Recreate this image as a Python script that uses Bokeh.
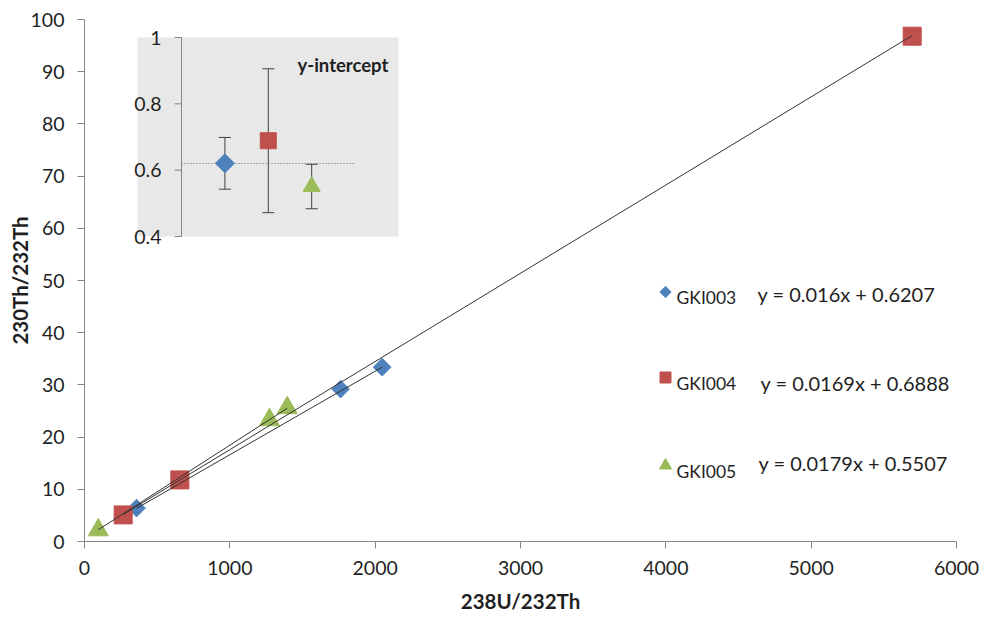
import math
from bokeh.plotting import figure
from bokeh.models import Range1d, FixedTicker, ColumnDataSource, Whisker, TeeHead
from bokeh.core.properties import value
from bokeh.embed import file_html
from bokeh.resources import INLINE

# Isochron data per sample: 238U/232Th (x) against 230Th/232Th (y)
samples = ["GKI003", "GKI004", "GKI005"]
gki003_x = [358, 1762, 2048]
gki003_y = [6.4, 29.2, 33.4]
gki004_x = [266, 656, 5695]
gki004_y = [5.1, 11.8, 96.8]
gki005_x = [95, 1273, 1395]
gki005_y = [2.2, 23.3, 25.6]

# Linear fits (y = slope * x + intercept) and intercept uncertainties
slopes = [0.016, 0.0169, 0.0179]
intercepts = [0.6207, 0.6888, 0.5507]
intercept_err = [0.078, 0.217, 0.067]

x_ticks = [0, 1000, 2000, 3000, 4000, 5000, 6000]
y_ticks = [0, 10, 20, 30, 40, 50, 60, 70, 80, 90, 100]
inset_ticks = [0.4, 0.6, 0.8, 1.0]
inset_tick_labels = ["0.4", "0.6", "0.8", "1"]

colors = ["#4F81BD", "#C0504D", "#9BBB59"]
AXIS = "#868686"
TEXT = "#1f1f1f"
FONT = "Lato"

# Page layout (pixels): main frame and the y-intercept inset
FL, FR, FT, FB = 84, 956, 19, 541
IN_L, IN_R, IN_T, IN_B = 181, 398, 37, 236   # inset axes area
BOX_L = 137                                  # inset panel left edge
IX_LO, IX_HI = 0, 5
IY_LO, IY_HI = 0.4, 1.0
kx = (IN_R - IN_L) / (IX_HI - IX_LO)
ky = (IN_B - IN_T) / (IY_HI - IY_LO)

p = figure(width=982, height=619,
           x_range=Range1d(0, 6000), y_range=Range1d(0, 100),
           output_backend="svg", toolbar_location=None,
           min_border_left=FL, min_border_right=982 - FR,
           min_border_top=FT, min_border_bottom=619 - FB)
p.extra_x_ranges = {
    "inset": Range1d(IX_LO - (IN_L - FL) / kx, IX_HI + (FR - IN_R) / kx),
    "px": Range1d(FL, FR),
}
p.extra_y_ranges = {
    "inset": Range1d(IY_LO - (FB - IN_B) / ky, IY_HI + (IN_T - FT) / ky),
    "px": Range1d(FB, FT),
}
p.grid.visible = False
p.outline_line_color = None
p.background_fill_color = "white"
p.border_fill_color = "white"

for ax, ticks in ((p.xaxis, x_ticks), (p.yaxis, y_ticks)):
    ax.ticker = FixedTicker(ticks=ticks)
    ax.axis_line_color = AXIS
    ax.major_tick_line_color = AXIS
    ax.minor_tick_line_color = None
    ax.major_tick_out = 7
    ax.major_tick_in = 0
    ax.major_label_text_font = FONT
    ax.major_label_text_font_size = "19.5px"
    ax.major_label_text_color = TEXT
    ax.axis_label_text_font = FONT
    ax.axis_label_text_font_size = "20.5px"
    ax.axis_label_text_font_style = "bold"
    ax.axis_label_text_color = TEXT
p.xaxis.axis_label = "238U/232Th"
p.yaxis.axis_label = "230Th/232Th"
p.xaxis.major_label_standoff = 12
p.yaxis.major_label_standoff = 13
p.xaxis.axis_label_standoff = 11
p.yaxis.axis_label_standoff = -4

# ---- main scatter with fitted lines ----
series = [(gki003_x, gki003_y), (gki004_x, gki004_y), (gki005_x, gki005_y)]
markers = [dict(marker="square", angle=math.pi / 4, size=12.5),
           dict(marker="square", angle=0, size=18),
           dict(marker="triangle", angle=0, size=20)]
for (xs, ys), c, m in zip(series, colors, markers):
    p.scatter(xs, ys, fill_color=c, line_color=c, **m)
for (xs, ys), s, b in zip(series, slopes, intercepts):
    x0, x1 = min(xs), max(xs)
    p.line([x0, x1], [s * x0 + b, s * x1 + b], line_color="#333333", line_width=1)

# ---- legend with fit equations ----
leg_marker_x = 665
leg_marker_y = [291.5, 377, 465]
leg_label_x = 676
leg_label_base = [296.5, 383, 470.5]
eq_x = [757, 760, 758]
eq_base = [293.5, 382, 462]
leg_markers = [dict(marker="square", angle=math.pi / 4, size=8),
               dict(marker="square", angle=0, size=11),
               dict(marker="triangle", angle=0, size=12)]
for i, (name, c, m) in enumerate(zip(samples, colors, leg_markers)):
    p.scatter([leg_marker_x], [leg_marker_y[i]], fill_color=c, line_color=c,
              x_range_name="px", y_range_name="px", **m)
    p.text([leg_label_x], [leg_label_base[i]], text=[name],
           text_font=value(FONT), text_font_size="17.5px", text_color=TEXT,
           text_baseline="alphabetic", x_range_name="px", y_range_name="px")
    p.text([eq_x[i]], [eq_base[i]], text=[f"y = {slopes[i]}x + {intercepts[i]}"],
           text_font=value(FONT), text_font_size="20px", text_color=TEXT,
           text_baseline="alphabetic", x_range_name="px", y_range_name="px")

# ---- inset: y-intercepts with uncertainties ----
p.quad(left=[BOX_L], right=[IN_R], top=[IN_T], bottom=[IN_B],
       fill_color="#e8e8e8", line_color=None, level="image",
       x_range_name="px", y_range_name="px")

inset_x = [1, 2, 3]
src = ColumnDataSource(dict(
    base=inset_x,
    upper=[b + e for b, e in zip(intercepts, intercept_err)],
    lower=[b - e for b, e in zip(intercepts, intercept_err)],
))
p.add_layout(Whisker(base="base", upper="upper", lower="lower", source=src,
                     line_color="#404040", line_width=1, level="underlay",
                     upper_head=TeeHead(size=12, line_color="#404040", line_width=1),
                     lower_head=TeeHead(size=12, line_color="#404040", line_width=1),
                     x_range_name="inset", y_range_name="inset"))

mean_b = sum(intercepts) / len(intercepts)
p.line([0, 4], [mean_b, mean_b], line_color="#6a6a6a", line_width=1,
       line_dash="1 2", x_range_name="inset", y_range_name="inset")

inset_markers = [dict(marker="square", angle=math.pi / 4, size=13.5),
                 dict(marker="square", angle=0, size=16),
                 dict(marker="triangle", angle=0, size=17)]
for xi, b, c, m in zip(inset_x, intercepts, colors, inset_markers):
    p.scatter([xi], [b], fill_color=c, line_color=c,
              x_range_name="inset", y_range_name="inset", **m)

# inset y axis
p.segment(x0=[0], y0=[IY_LO], x1=[0], y1=[IY_HI], line_color=AXIS, line_width=1,
          x_range_name="inset", y_range_name="inset")
p.segment(x0=[0] * len(inset_ticks), y0=inset_ticks,
          x1=[-7 / kx] * len(inset_ticks), y1=inset_ticks,
          line_color=AXIS, line_width=1, x_range_name="inset", y_range_name="inset")
p.text([-(7 + 13) / kx] * len(inset_ticks), inset_ticks, text=inset_tick_labels,
       text_font=value(FONT), text_font_size="19.5px", text_color=TEXT,
       text_align="right", text_baseline="middle",
       x_range_name="inset", y_range_name="inset")

p.text([297], [64], text=["y-intercept"], text_font=value(FONT),
       text_font_size="18.5px", text_font_style="bold", text_color=TEXT,
       text_baseline="alphabetic", x_range_name="px", y_range_name="px")

open("out.html", "w").write(file_html(p, INLINE))
